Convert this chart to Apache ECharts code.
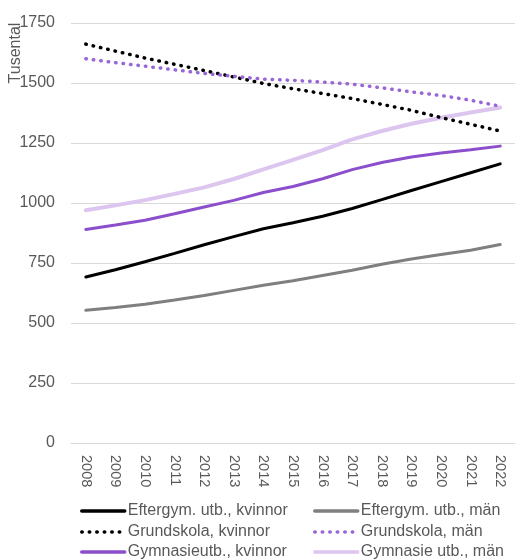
<!DOCTYPE html>
<html>
<head>
<meta charset="utf-8">
<script src="https://cdn.jsdelivr.net/npm/echarts@6/dist/echarts.min.js"></script>
<style>html,body{margin:0;padding:0;background:#fff}#c{width:515px;height:559px}</style>
</head>
<body>
<div id="c"></div>
<script>
const years = ['2008','2009','2010','2011','2012','2013','2014','2015','2016','2017','2018','2019','2020','2021','2022'];
const yTicks = [0, 250, 500, 750, 1000, 1250, 1500, 1750];
const eftergymKvinnor = [692, 722, 755, 790, 826, 860, 893, 918, 945, 977, 1014, 1052, 1089, 1126, 1163];
const eftergymMan = [553, 565, 578, 596, 615, 636, 657, 676, 698, 720, 745, 767, 785, 803, 827];
const grundskolaKvinnor = [1662, 1633, 1604, 1578, 1552, 1525, 1498, 1476, 1456, 1435, 1411, 1386, 1356, 1328, 1300];
const grundskolaMan = [1601, 1585, 1570, 1555, 1540, 1528, 1516, 1511, 1504, 1495, 1480, 1463, 1448, 1428, 1403];
const gymnasieKvinnor = [890, 908, 928, 955, 983, 1011, 1044, 1069, 1101, 1139, 1169, 1192, 1208, 1222, 1237];
const gymnasieMan = [970, 990, 1012, 1038, 1065, 1100, 1140, 1180, 1220, 1265, 1300, 1330, 1355, 1377, 1398];
const names = ['Eftergym. utb., kvinnor', 'Eftergym. utb., män', 'Grundskola, kvinnor', 'Grundskola, män', 'Gymnasieutb., kvinnor', 'Gymnasie utb., män'];

const FONT = 'Liberation Sans';
const TXT = '#595959';
const chart = echarts.init(document.getElementById('c'), null, {renderer: 'canvas'});
function line(name, data, color, width, dotted) {
  return {
    name, type: 'line', data, symbol: 'none', smooth: false,
    lineStyle: dotted ? {color, width, type: [0.5, 7], cap: 'round'} : {color, width, cap: 'round'},
    itemStyle: {color},
    z: dotted ? 3 : 2
  };
}
const legendPos = [[80, 503], [313, 503], [80, 524], [313, 524], [80, 544], [313, 544]];
const legends = names.map((n, i) => ({
  data: [n], orient: 'horizontal', left: legendPos[i][0], top: legendPos[i][1], padding: 0,
  itemWidth: 43, itemHeight: 14, itemGap: 0,
  itemStyle: {opacity: 0},
  lineStyle: {cap: 'round', width: 3.5},
  textStyle: {color: TXT, fontFamily: FONT, fontSize: 16, padding: [0, 0, 0, -2]}
}));
chart.setOption({
  animation: false,
  grid: {left: 71, top: 23, width: 454, height: 420, containLabel: false},
  xAxis: {
    type: 'category', data: years, boundaryGap: true,
    axisLine: {lineStyle: {color: '#d9d9d9', width: 1}},
    axisTick: {show: false},
    axisLabel: {rotate: -90, color: TXT, fontFamily: FONT, fontSize: 14.5, margin: 12, interval: 0}
  },
  yAxis: {
    type: 'value', min: yTicks[0], max: yTicks[yTicks.length - 1], interval: 250,
    axisLine: {show: false}, axisTick: {show: false},
    splitLine: {lineStyle: {color: '#d9d9d9', width: 1}},
    axisLabel: {color: TXT, fontFamily: FONT, fontSize: 16, margin: 16, formatter: v => String(v)}
  },
  legend: legends,
  graphic: [{
    type: 'text', x: 16, y: 53, rotation: Math.PI / 2,
    style: {text: 'Tusental', fill: TXT, font: '16px ' + FONT, align: 'center', verticalAlign: 'middle'}
  }],
  series: [
    line(names[0], eftergymKvinnor, '#000000', 3, false),
    line(names[1], eftergymMan, '#7f7f7f', 3, false),
    line(names[2], grundskolaKvinnor, '#000000', 3.5, true),
    line(names[3], grundskolaMan, '#9966d6', 3.5, true),
    line(names[4], gymnasieKvinnor, '#8b4fcc', 3, false),
    line(names[5], gymnasieMan, '#dcc5ef', 4, false)
  ]
});
</script>
</body>
</html>
